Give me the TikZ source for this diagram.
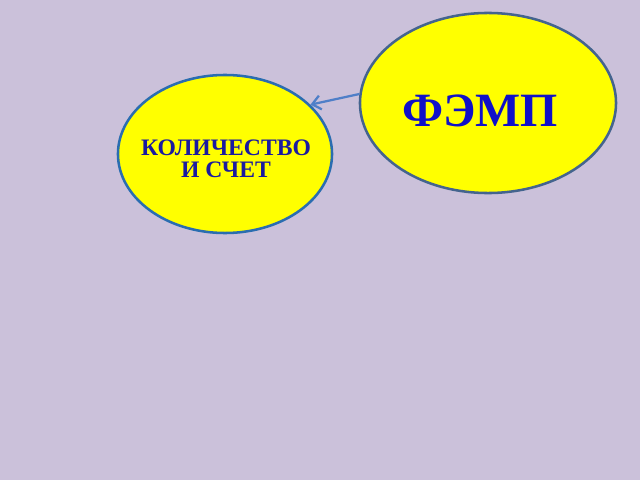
\documentclass[tikz,border=0pt]{standalone}
\usepackage{fontspec}
\setmainfont{Liberation Serif}
\usetikzlibrary{shapes.geometric,arrows.meta}
\definecolor{lavender}{HTML}{CBC1DA}
\definecolor{sunyellow}{HTML}{FFFF00}
\definecolor{rimgrey}{HTML}{44648E}
\definecolor{rimblue}{HTML}{2A6DB0}
\definecolor{arrowblue}{HTML}{4F7FC8}
\definecolor{inkblue}{HTML}{1010C8}
\definecolor{inkdark}{HTML}{1A1AA0}
\tikzset{
  bubble/.style={ellipse, fill=sunyellow, line width=1.8pt, inner sep=0pt}
}
\begin{document}
\begin{tikzpicture}[>={Straight Barb[length=6pt,width=10pt]}, x=0.025cm, y=-0.025cm]
\fill[lavender] (0,0) rectangle (640,480);
\node[bubble, draw=rimgrey, minimum width=6.4cm, minimum height=4.5cm] (femp) at (488,103) {};
\node[bubble, draw=rimblue, minimum width=5.35cm, minimum height=3.95cm] (count) at (225,154) {};
\node[font=\bfseries\fontsize{34}{36}\selectfont, text=inkblue] (fempname) at (480,111) {ФЭМП};
\node[font=\bfseries\fontsize{16.8}{16}\selectfont, text=inkdark, align=center] (countname) at (226,159) {КОЛИЧЕСТВО\\И СЧЕТ};
\draw[->, arrowblue, line width=1.6pt] (femp.176) -- (count.30);
\end{tikzpicture}
\end{document}
